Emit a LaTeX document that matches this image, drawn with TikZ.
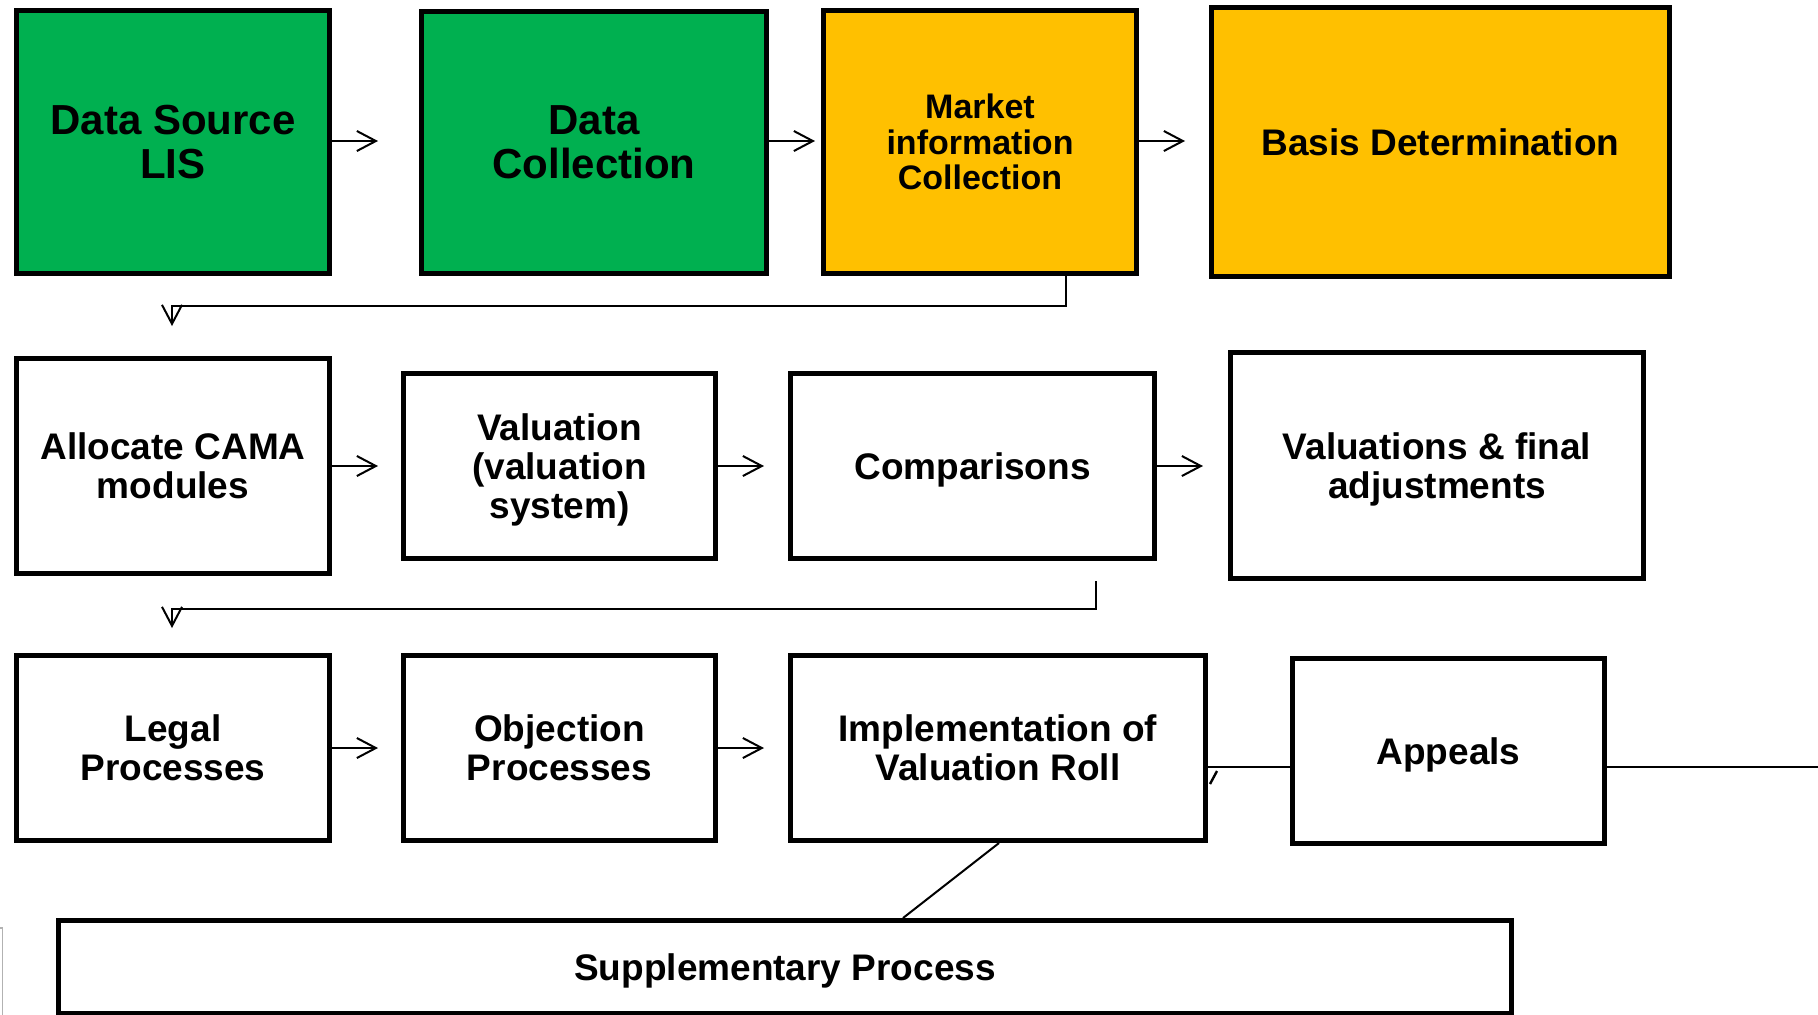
\documentclass[tikz,border=0pt]{standalone}
\usepackage{fontspec}
\setmainfont{Liberation Sans}
\usetikzlibrary{arrows.meta}
\definecolor{boxgreen}{HTML}{00B050}
\definecolor{boxgold}{HTML}{FFC000}
\begin{document}
\begin{tikzpicture}[x=0.5pt,y=-0.5pt,
  box/.style={draw=black,line width=2.5pt,rectangle,inner sep=0pt,align=center,
    font=\bfseries\fontsize{18.5}{19.5}\selectfont},
  low/.style={text depth=0pt},
  bigfont/.style={font=\bfseries\fontsize{21}{22}\selectfont},
  midfont/.style={font=\bfseries\fontsize{17}{17.7}\selectfont},
  conn/.style={line width=1pt,draw=black},
  arr/.style={conn,-{Straight Barb[length=9.5pt,width=10pt,line width=1pt]}}]
\useasboundingbox (0,0) rectangle (1818,1014);
\clip (0,0) rectangle (1818,1014);
\fill[white] (0,0) rectangle (1818,1014);
% row 1
\node[box,bigfont,fill=boxgreen,minimum width=156.5pt,minimum height=131.5pt] (ds) at (173,142) {Data Source\\LIS};
\node[box,bigfont,fill=boxgreen,minimum width=172.5pt,minimum height=131pt] (dc) at (594,142.5) {Data\\Collection};
\node[box,midfont,fill=boxgold,minimum width=156.5pt,minimum height=131.5pt] (mk) at (980,142) {Market\\information\\Collection};
\node[box,fill=boxgold,minimum width=229pt,minimum height=134.5pt] (bd) at (1440.5,142) {Basis Determination};
% row 2
\node[box,minimum width=156.5pt,minimum height=107.5pt] (al) at (173,466) {Allocate CAMA\\modules};
\node[box,low,minimum width=156pt,minimum height=92.5pt] (va) at (559.5,466) {Valuation\\(valuation\\system)};
\node[box,low,minimum width=182pt,minimum height=92.5pt] (co) at (972.5,466) {Comparisons};
\node[box,low,minimum width=206.5pt,minimum height=113pt] (vf) at (1437,465.5) {Valuations \& final\\adjustments};
% row 3
\node[box,minimum width=156.5pt,minimum height=92.5pt] (lp) at (173,748) {Legal\\Processes};
\node[box,minimum width=156pt,minimum height=92.5pt] (op) at (559.5,748) {Objection\\Processes};
\node[box,minimum width=207.5pt,minimum height=92.5pt] (im) at (998,748) {Implementation of\\Valuation Roll};
\node[box,low,minimum width=156pt,minimum height=92.5pt] (ap) at (1448.5,751) {Appeals};
\node[box,low,minimum width=726.5pt,minimum height=46.5pt] (sp) at (785,967) {Supplementary Process};
% row arrows
\draw[arr] (ds.east |- 0,141) -- ++(46,0);
\draw[arr] (dc.east |- 0,141) -- ++(46,0);
\draw[arr] (mk.east |- 0,141) -- ++(46,0);
\draw[arr] (al.east) -- ++(46,0);
\draw[arr] (va.east) -- ++(46,0);
\draw[arr] (co.east) -- ++(46,0);
\draw[arr] (lp.east) -- ++(46,0);
\draw[arr] (op.east) -- ++(46,0);
% return connectors
\coordinate (c1s) at (1066,276);
\coordinate (c1e) at (172,326);
\draw[arr] (c1s) -- (1066,306) -- (172,306) -- (c1e);
\coordinate (c2s) at (1096,581);
\coordinate (c2e) at (172,628);
\draw[arr] (c2s) -- (1096,609) -- (172,609) -- (c2e);
% row 3 lines
\coordinate (imr) at (im.east |- 0,767);
\coordinate (apl) at (ap.west |- 0,767);
\coordinate (apr) at (ap.east |- 0,767);
\coordinate (edge) at (1830,767);
\draw[conn] (imr) -- (apl);
\draw[conn] (apr) -- (edge);
\draw[line width=1.2pt] (1217,771) -- (1210,784);
\coordinate (imb) at (999,843);
\coordinate (spt) at (903,918);
\draw[conn] (imb) -- (spt);
% left edge fragment
\draw[gray!60,line width=0.6pt] (-10,928) -- (2.5,928) -- (2.5,1020);
\end{tikzpicture}
\end{document}
